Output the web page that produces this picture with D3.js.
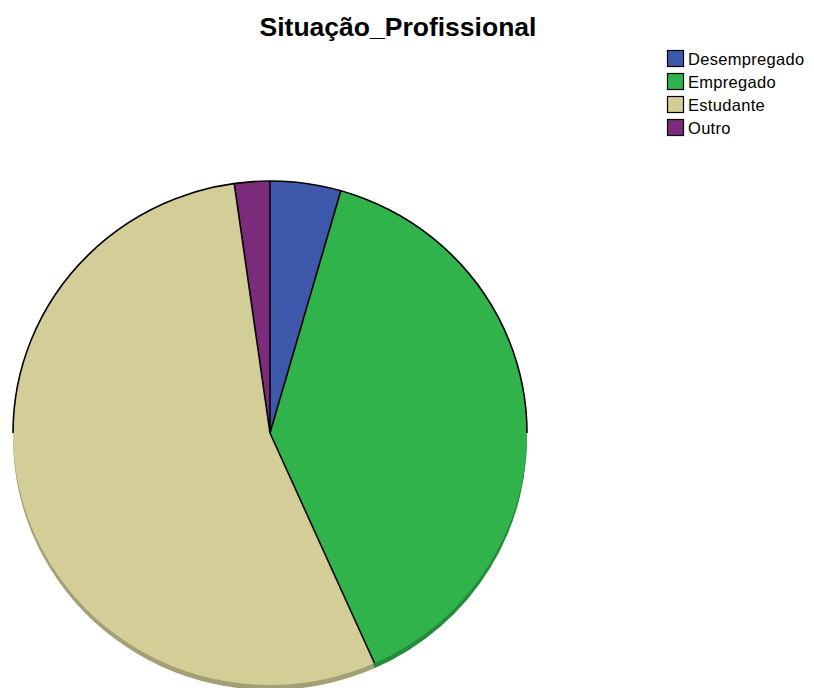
<!DOCTYPE html>
<html>
<head>
<meta charset="utf-8">
<script src="https://cdn.jsdelivr.net/npm/d3@7"></script>
<style>
  html, body { margin: 0; padding: 0; background: #fff; }
  svg { display: block; }
</style>
</head>
<body>
<svg id="chart" width="814" height="688"></svg>
<script>
// Frequencies per category
const categories = ["Desempregado", "Empregado", "Estudante", "Outro"];
const counts = [4, 35, 49, 2];
const colors = ["#3E58AC", "#30B34B", "#D3CD98", "#7C2A7B"];
const title = "Situação_Profissional";

const svg = d3.select("#chart");
const cx = 270, cy = 433, rx = 257, ry = 252, depth = 5;

const pie = d3.pie().sort(null).value(d => d)(counts);
const arc = d3.arc().innerRadius(0).outerRadius(rx);
const sy = ry / rx;

// side rim (lower edge of the tilted disc)
const sideG = svg.append("g").attr("transform", `translate(${cx},${cy + depth}) scale(1,${sy})`);
sideG.selectAll("path").data(pie).join("path")
  .attr("d", arc)
  .attr("fill", (d, i) => d3.color(colors[i]).darker(0.7));

// top face
const faceG = svg.append("g").attr("transform", `translate(${cx},${cy}) scale(1,${sy})`);
faceG.selectAll("path.slice").data(pie).join("path")
  .attr("class", "slice")
  .attr("d", arc)
  .attr("fill", (d, i) => colors[i]);

// slice boundaries
faceG.selectAll("line.edge").data(pie).join("line")
  .attr("class", "edge")
  .attr("x1", 0).attr("y1", 0)
  .attr("x2", d => rx * Math.sin(d.startAngle))
  .attr("y2", d => -rx * Math.cos(d.startAngle))
  .attr("stroke", "#000").attr("stroke-width", 1.6)
  .attr("vector-effect", "non-scaling-stroke");

// outline on the upper half of the disc
const upper = d3.arc().innerRadius(rx).outerRadius(rx)
  .startAngle(-Math.PI / 2).endAngle(Math.PI / 2);
faceG.append("path")
  .attr("d", upper())
  .attr("fill", "none").attr("stroke", "#000").attr("stroke-width", 1.6)
  .attr("vector-effect", "non-scaling-stroke");

// title
svg.append("text")
  .attr("x", 398).attr("y", 36)
  .attr("text-anchor", "middle")
  .attr("font-family", "Liberation Sans, Arial, sans-serif")
  .attr("font-weight", "bold").attr("font-size", 26.5)
  .text(title);

// legend
const legend = svg.append("g").attr("transform", "translate(667,50)");
const rows = legend.selectAll("g").data(categories).join("g")
  .attr("transform", (d, i) => `translate(0,${i * 23})`);
rows.append("rect")
  .attr("x", 0.5).attr("y", 0.5).attr("width", 16).attr("height", 16)
  .attr("fill", (d, i) => colors[i]).attr("stroke", "#000").attr("stroke-width", 1.2);
rows.append("text")
  .attr("x", 21).attr("y", 14.5)
  .attr("font-family", "Liberation Sans, Arial, sans-serif")
  .attr("font-size", 16.5).attr("letter-spacing", 0.3)
  .text(d => d);
</script>
</body>
</html>
